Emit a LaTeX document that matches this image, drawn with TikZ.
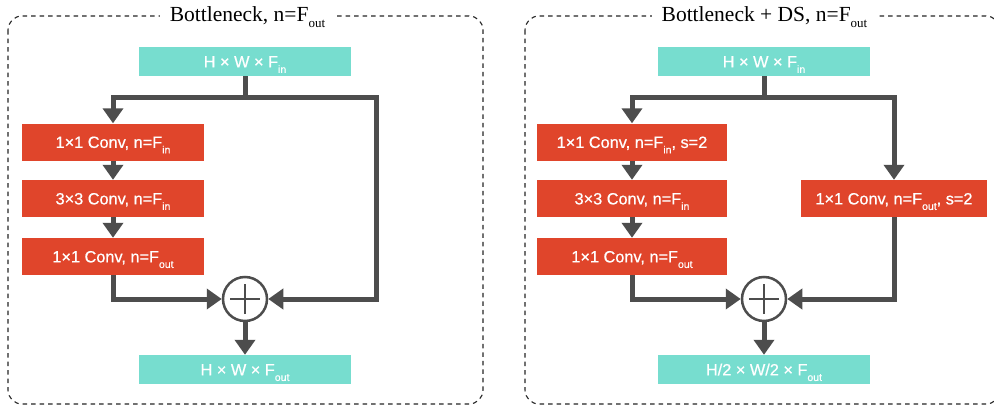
\documentclass[tikz,border=0pt]{standalone}
\usepackage{fontspec}
\setmainfont{Liberation Serif}
\newfontfamily\labelfont[FakeBold=0.6]{Liberation Sans}
\usetikzlibrary{arrows.meta}
\definecolor{cyanbox}{HTML}{77DDCF}
\definecolor{redbox}{HTML}{E0452B}
\definecolor{connc}{HTML}{4D4D4D}
\newcommand{\lsub}[1]{\raisebox{-0.34em}{\fontsize{10.5}{11}\selectfont #1}}
\newcommand{\tsub}[1]{\raisebox{-0.28em}{\fontsize{13}{13}\selectfont #1}}
\begin{document}
\begin{tikzpicture}[x=1pt,y=-1pt,
  box/.style={inner sep=0pt, text=white, text height=11.8pt, text depth=0pt,
    font=\labelfont\fontsize{16.3}{16}\selectfont},
  iobox/.style={box, fill=cyanbox, minimum width=212pt, minimum height=29pt},
  convbox/.style={box, fill=redbox, minimum height=37pt},
  wire/.style={draw=connc, line width=5pt},
  arr/.style={wire, -{Triangle[width=20pt,length=15pt]}},
  sumnode/.style={circle, draw=connc, line width=2.5pt, fill=white, minimum size=44pt, inner sep=0pt},
  panel/.style={draw=black!85, dash pattern=on 4.5pt off 4pt, line width=1.1pt, rounded corners=14pt},
  title/.style={fill=white, inner xsep=10pt, inner ysep=3pt, text height=14.5pt, text depth=0pt,
    font=\fontsize{21.5}{22}\selectfont}
]
\clip (0,0) rectangle (994,407);
\fill[white] (0,0) rectangle (994,407);

% ---------- panels ----------
\draw[panel] (8,16) rectangle (483,404);
\draw[panel] (525,16) rectangle (1000,404);
\node[title] (t1) at (247.5,14.5) {Bottleneck, n=F\tsub{out}};
\node[title] (t2) at (764.5,14.5) {Bottleneck + DS, n=F\tsub{out}};

% ---------- left panel ----------
\node[iobox] (in1) at (245,61.5) {H × W × F\lsub{in}};
\node[convbox, minimum width=182pt] (c11) at (113,142) {1×1 Conv, n=F\lsub{in}};
\node[convbox, minimum width=182pt] (c12) at (113,198.5) {3×3 Conv, n=F\lsub{in}};
\node[convbox, minimum width=182pt] (c13) at (113,256.5) {1×1 Conv, n=F\lsub{out}};
\node[sumnode] (s1) at (245,299) {};
\draw[connc, line width=2.5pt] ([xshift=-15pt]s1.center) -- ([xshift=15pt]s1.center)
      ([yshift=-15pt]s1.center) -- ([yshift=15pt]s1.center);
\node[iobox] (out1) at (245,369.5) {H × W × F\lsub{out}};
\coordinate (sp1) at (245,97);
\coordinate (rt1) at (376,97);
\coordinate (rb1) at (376,299);

\draw[wire] (in1.south) -- (sp1);
\draw[arr] (sp1) -| (c11.north);
\draw[arr] (sp1) -- (rt1) -- (rb1) -- (s1.east);
\draw[arr] (c11.south) -- (c12.north);
\draw[arr] (c12.south) -- (c13.north);
\draw[arr] (c13.south) |- (s1.west);
\draw[arr] (s1.south) -- (out1.north);

% ---------- right panel ----------
\node[iobox] (in2) at (764,61.5) {H × W × F\lsub{in}};
\node[convbox, minimum width=190pt] (c21) at (632,142) {1×1 Conv, n=F\lsub{in}, s=2};
\node[convbox, minimum width=190pt] (c22) at (632,198.5) {3×3 Conv, n=F\lsub{in}};
\node[convbox, minimum width=190pt] (c23) at (632,256.5) {1×1 Conv, n=F\lsub{out}};
\node[convbox, minimum width=186pt] (c24) at (894,198.5) {1×1 Conv, n=F\lsub{out}, s=2};
\node[sumnode] (s2) at (764,299) {};
\draw[connc, line width=2.5pt] ([xshift=-15pt]s2.center) -- ([xshift=15pt]s2.center)
      ([yshift=-15pt]s2.center) -- ([yshift=15pt]s2.center);
\node[iobox] (out2) at (764,369.5) {H/2 × W/2 × F\lsub{out}};
\coordinate (sp2) at (764,97);

\draw[wire] (in2.south) -- (sp2);
\draw[arr] (sp2) -| (c21.north);
\draw[arr] (sp2) -| (c24.north);
\draw[arr] (c21.south) -- (c22.north);
\draw[arr] (c22.south) -- (c23.north);
\draw[arr] (c23.south) |- (s2.west);
\draw[arr] (c24.south) |- (s2.east);
\draw[arr] (s2.south) -- (out2.north);
\end{tikzpicture}
\end{document}
